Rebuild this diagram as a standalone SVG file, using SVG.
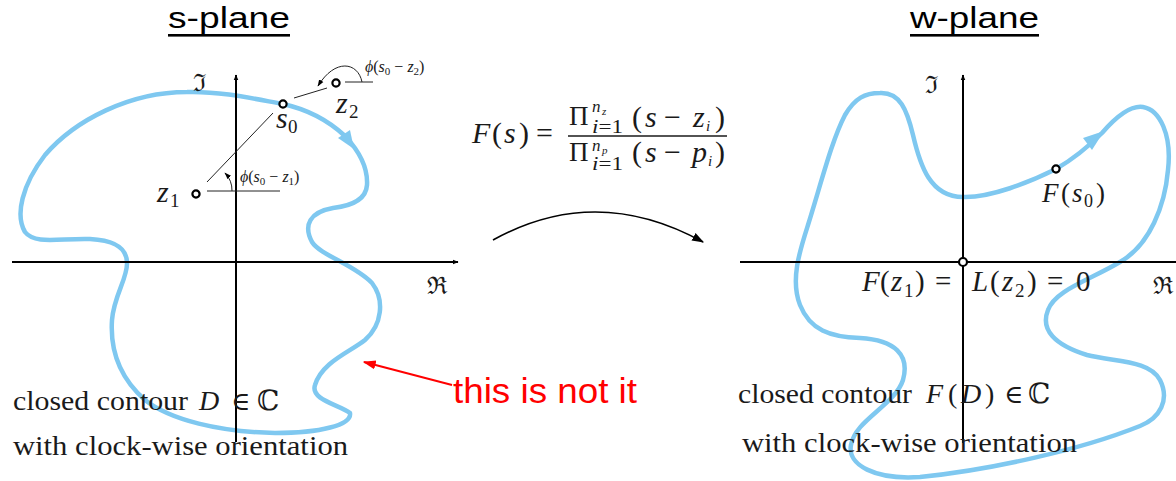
<svg xmlns="http://www.w3.org/2000/svg" width="1176" height="481" viewBox="0 0 1176 481">
<style>
.title{font-family:"Liberation Sans",Arial,sans-serif;font-size:29px;fill:#000}
.m{font-family:"Liberation Serif","DejaVu Serif",serif;fill:#1a1a1a}
.it{font-style:italic}
.ax{stroke:#000;stroke-width:2;fill:none}
.thin{stroke:#222;stroke-width:1;fill:none}
.contour{stroke:#7FC8F0;stroke-width:4.5;fill:none;stroke-linejoin:round}
.pt{fill:#fff;stroke:#000;stroke-width:2.2}
.red{font-family:"Liberation Sans",Arial,sans-serif;font-size:35px;fill:#ff0000}
</style>
<defs>
<marker id="ah" viewBox="0 0 10 10" refX="9" refY="5" markerWidth="6" markerHeight="6" orient="auto" markerUnits="userSpaceOnUse">
<path d="M0,1 L10,5 L0,9 z" fill="#000"/>
</marker>
<marker id="ahs" viewBox="0 0 10 10" refX="9" refY="5" markerWidth="7" markerHeight="7" orient="auto" markerUnits="userSpaceOnUse">
<path d="M0,1.5 L10,5 L0,8.5 z" fill="#000"/>
</marker>
<marker id="ahb" viewBox="0 0 10 10" refX="9" refY="5" markerWidth="12" markerHeight="12" orient="auto" markerUnits="userSpaceOnUse">
<path d="M0,1.5 L10,5 L0,8.5 z" fill="#000"/>
</marker>
<marker id="ahr" viewBox="0 0 10 10" refX="9" refY="5" markerWidth="13" markerHeight="13" orient="auto" markerUnits="userSpaceOnUse">
<path d="M0,1.5 L10,5 L0,8.5 z" fill="#ff0000"/>
</marker>
</defs>
<rect width="1176" height="481" fill="#fff"/>

<g id="titles">
<text class="title" x="168" y="28" textLength="122" lengthAdjust="spacingAndGlyphs">s-plane</text>
<rect x="168" y="34" width="122" height="2.6" fill="#000"/>
<text class="title" x="910" y="28" textLength="129" lengthAdjust="spacingAndGlyphs">w-plane</text>
<rect x="910" y="34" width="129" height="2.6" fill="#000"/>
</g>

<g id="s-plane">
<path class="contour" d="M187,92 C220,91 255,99 283,104 C310,110 330,122 345,136 C360,152 368,168 367,185 C366,200 350,206 333,208 C310,212 303,225 312,242 C320,255 355,265 372,283 C385,300 382,325 365,340 C350,352 322,362 315,385 C310,400 340,405 350,413 C352,425 320,433 275,433 C220,432 170,420 145,400 C120,378 110,350 112,320 C114,295 128,278 127,262 C126,245 110,240 90,239 C60,238 35,245 25,232 C15,215 22,185 45,155 C75,120 130,92 187,92 Z"/>
<polygon points="354,149 338,138 350,130" fill="#7FC8F0"/>
<line class="ax" x1="236" y1="442" x2="236" y2="75" marker-end="url(#ah)"/>
<line class="ax" x1="12" y1="262" x2="458" y2="262" marker-end="url(#ah)"/>
<text class="m" x="193" y="91" font-size="24">ℑ</text>
<text class="m" x="427" y="294" font-size="24">ℜ</text>
<line class="thin" x1="207" y1="182" x2="273" y2="113"/>
<line class="thin" x1="207" y1="191" x2="280" y2="191"/>
<path class="thin" d="M232,191 A25,25 0 0 0 225,173" marker-end="url(#ahs)"/>
<line class="thin" x1="294" y1="98" x2="327" y2="88"/>
<line class="thin" x1="345" y1="82" x2="373" y2="82"/>
<path class="thin" d="M362,82 C358,62 335,58 318,86" marker-end="url(#ahs)"/>
<circle class="pt" cx="196" cy="194" r="3.6"/>
<circle class="pt" cx="283" cy="104" r="3.6"/>
<circle class="pt" cx="336" cy="83" r="3.6"/>
<text class="m it" x="157" y="202" font-size="30">z</text>
<text class="m" x="170" y="207" font-size="19">1</text>
<text class="m it" x="276" y="128" font-size="30">s</text>
<text class="m" x="288" y="133" font-size="19">0</text>
<text class="m it" x="336" y="113" font-size="30">z</text>
<text class="m" x="349" y="118" font-size="19">2</text>
<text class="m" font-size="16" x="240" y="182"><tspan class="it">ϕ</tspan>(<tspan class="it">s</tspan><tspan font-size="11" dy="3">0</tspan><tspan dy="-3"> − </tspan><tspan class="it">z</tspan><tspan font-size="11" dy="3">1</tspan><tspan dy="-3">)</tspan></text>
<text class="m" font-size="16" x="365" y="72"><tspan class="it">ϕ</tspan>(<tspan class="it">s</tspan><tspan font-size="11" dy="3">0</tspan><tspan dy="-3"> − </tspan><tspan class="it">z</tspan><tspan font-size="11" dy="3">2</tspan><tspan dy="-3">)</tspan></text>
<text class="m" x="13" y="410" font-size="28" textLength="175" lengthAdjust="spacingAndGlyphs">closed contour</text>
<text class="m it" x="199" y="410" font-size="28">D</text>
<text class="m" x="231" y="410" font-size="26">∈</text>
<text class="m" x="257" y="410" font-size="28">ℂ</text>
<text class="m" x="13" y="455" font-size="28" textLength="335" lengthAdjust="spacingAndGlyphs">with clock-wise orientation</text>
</g>

<g id="formula">
<text class="m it" x="472" y="143" font-size="30">F</text>
<text class="m" x="492" y="143" font-size="30">(</text>
<text class="m it" x="504" y="143" font-size="30">s</text>
<text class="m" x="519" y="143" font-size="30">)</text>
<text class="m" x="536" y="143" font-size="30">=</text>
<line x1="568" y1="136" x2="727" y2="136" stroke="#1a1a1a" stroke-width="1.3"/>
<text class="m" x="569" y="125" font-size="27">Π</text>
<text class="m it" x="592" y="112" font-size="17">n</text>
<text class="m it" x="602" y="115" font-size="11">z</text>
<text class="m" x="592" y="133" font-size="18" textLength="31" lengthAdjust="spacingAndGlyphs"><tspan class="it">i</tspan>=1</text>
<text class="m" x="632" y="127" font-size="30">(</text>
<text class="m it" x="645" y="127" font-size="30">s</text>
<text class="m" x="664" y="127" font-size="30">−</text>
<text class="m it" x="693" y="127" font-size="30">z</text>
<text class="m it" x="706" y="131" font-size="15">i</text>
<text class="m" x="715" y="127" font-size="30">)</text>
<text class="m" x="569" y="161" font-size="27">Π</text>
<text class="m it" x="592" y="151" font-size="17">n</text>
<text class="m it" x="602" y="154" font-size="11">p</text>
<text class="m" x="592" y="170" font-size="18" textLength="31" lengthAdjust="spacingAndGlyphs"><tspan class="it">i</tspan>=1</text>
<text class="m" x="632" y="162" font-size="30">(</text>
<text class="m it" x="645" y="162" font-size="30">s</text>
<text class="m" x="664" y="162" font-size="30">−</text>
<text class="m it" x="692" y="162" font-size="30">p</text>
<text class="m it" x="708" y="166" font-size="15">i</text>
<text class="m" x="715" y="162" font-size="30">)</text>
</g>

<g id="connectors">
<path d="M493,240 Q596,183 703,242" stroke="#000" stroke-width="1.6" fill="none" marker-end="url(#ahb)"/>
<line x1="452" y1="385" x2="364" y2="362" stroke="#ff0000" stroke-width="2" marker-end="url(#ahr)"/>
</g>

<g id="note">
<text class="red" x="453" y="403" textLength="184" lengthAdjust="spacingAndGlyphs">this is not it</text>
</g>

<g id="w-plane">
<path class="contour" d="M880,93 C900,92 907,110 913,135 C920,165 930,197 963,197 C990,198 1030,182 1056,169 C1075,158 1090,145 1102,133 C1115,118 1130,105 1143,107 C1160,110 1172,135 1168,170 C1165,205 1150,245 1120,262 C1090,280 1055,290 1048,310 C1040,330 1055,345 1087,355 C1115,362 1150,360 1160,380 C1170,400 1160,418 1140,426 C1080,450 990,470 920,477 C875,480 847,465 851,445 C855,420 895,405 903,380 C910,355 895,340 860,338 C830,337 810,330 800,305 C790,280 800,250 808,225 C822,180 832,140 845,115 C855,98 865,93 880,93 Z"/>
<polygon points="1104,131 1092,150 1083,138" fill="#7FC8F0"/>
<line class="ax" x1="963" y1="443" x2="963" y2="75" marker-end="url(#ah)"/>
<line class="ax" x1="740" y1="262" x2="1176" y2="262"/>
<text class="m" x="925" y="93" font-size="24">ℑ</text>
<text class="m" x="1153" y="294" font-size="24">ℜ</text>
<circle class="pt" cx="963" cy="262" r="4"/>
<circle class="pt" cx="1056" cy="169" r="3.6"/>
<text class="m it" x="1042" y="202" font-size="27">F</text>
<text class="m" x="1061" y="202" font-size="27">(</text>
<text class="m it" x="1072" y="202" font-size="27">s</text>
<text class="m" x="1084" y="207" font-size="18">0</text>
<text class="m" x="1096" y="202" font-size="27">)</text>
<text class="m it" x="862" y="291" font-size="29">F</text>
<text class="m" x="880" y="291" font-size="29">(</text>
<text class="m it" x="891" y="291" font-size="29">z</text>
<text class="m" x="904" y="297" font-size="19">1</text>
<text class="m" x="915" y="291" font-size="29">)</text>
<text class="m" x="935" y="291" font-size="29">=</text>
<text class="m it" x="972" y="291" font-size="29">L</text>
<text class="m" x="990" y="291" font-size="29">(</text>
<text class="m it" x="1002" y="291" font-size="29">z</text>
<text class="m" x="1015" y="297" font-size="19">2</text>
<text class="m" x="1027" y="291" font-size="29">)</text>
<text class="m" x="1047" y="291" font-size="29">=</text>
<text class="m" x="1076" y="291" font-size="29">0</text>
<text class="m" x="738" y="403" font-size="28" textLength="174" lengthAdjust="spacingAndGlyphs">closed contour</text>
<text class="m it" x="926" y="403" font-size="28">F</text>
<text class="m" x="948" y="403" font-size="28">(</text>
<text class="m it" x="961" y="403" font-size="28">D</text>
<text class="m" x="985" y="403" font-size="28">)</text>
<text class="m" x="1004" y="403" font-size="26">∈</text>
<text class="m" x="1028" y="403" font-size="28">ℂ</text>
<text class="m" x="742" y="452" font-size="28" textLength="335" lengthAdjust="spacingAndGlyphs">with clock-wise orientation</text>
</g>
</svg>
